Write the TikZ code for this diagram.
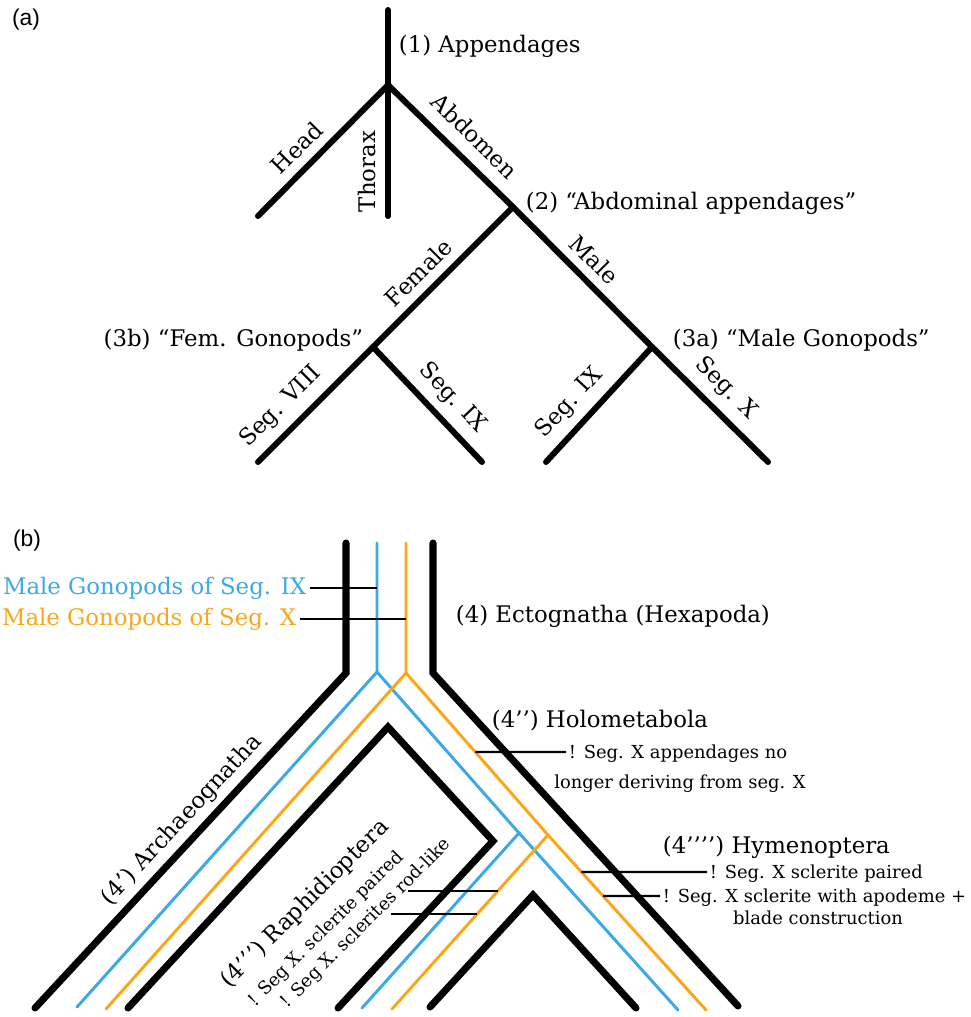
\documentclass[tikz,border=0pt]{standalone}
\usepackage{fontspec}
\setmainfont{DejaVu Serif}
\newfontfamily\panelfont{Liberation Sans}
\usetikzlibrary{positioning,calc}
\definecolor{segblue}{RGB}{59,170,226}
\definecolor{segorange}{RGB}{250,166,26}

\begin{document}
\begin{tikzpicture}[x=0.02cm, y=-0.02cm, line cap=round,
	branch/.style = {draw, line width=3.4pt},
	wall/.style = {draw, line width=4pt},
	blueline/.style = {draw=segblue, line width=1.7pt},
	orangeline/.style = {draw=segorange, line width=1.7pt},
	leader/.style = {draw, line width=1.3pt, line cap=butt},
	lab/.style = {font=\fontsize{13}{15}\selectfont, inner sep=2pt},
	note/.style = {font=\fontsize{10.2}{12}\selectfont, inner sep=1.5pt, text height=7.5pt, text depth=0pt},
	edgelab/.style = {lab, sloped, above=3pt},
	panel/.style = {font=\panelfont\fontsize{13}{15}\selectfont}]
	\useasboundingbox (0,0) rectangle (970,1017);

	% (a) segment tree
	\node[panel] (pa) at (26,20) {(a)};
	\coordinate (a0) at (388,10);
	\coordinate (aR) at (388,85);
	\coordinate (aT) at (388,216);
	\coordinate (aH) at (258,216);
	\coordinate (a2) at (513,207);
	\coordinate (a3b) at (373,347);
	\coordinate (a3a) at (652,347);
	\coordinate (s8) at (258,462);
	\coordinate (s9f) at (482,462);
	\coordinate (s9m) at (546,462);
	\coordinate (s10) at (768,462);
	\draw[branch] (a0) -- (aR);
	\draw[branch] (aT) -- node[edgelab, pos=0.34] (lthorax) {Thorax} (aR);
	\draw[branch] (aH) -- node[edgelab, pos=0.41] (lhead) {Head} (aR);
	\draw[branch] (aR) -- node[edgelab, above=5pt, pos=0.56] (labdomen) {Abdomen} (a2)
		-- node[edgelab, pos=0.48] (lmale) {Male} (a3a)
		-- node[edgelab, pos=0.5] (lsegx) {Seg. X} (s10);
	\draw[branch] (s8) -- node[edgelab, pos=0.34] (lseg8) {Seg. VIII} (a3b)
		-- node[edgelab, pos=0.43] (lfemale) {Female} (a2);
	\draw[branch] (a3b) -- node[edgelab, pos=0.58] (lseg9f) {Seg. IX} (s9f);
	\draw[branch] (s9m) -- node[edgelab, pos=0.38] (lseg9m) {Seg. IX} (a3a);
	\node[lab, anchor=base west] (n1) at (395,53) {(1) Appendages};
	\node[lab, anchor=base west] (n2) at (522,209) {(2) “Abdominal appendages”};
	\node[lab, anchor=base east] (n3b) at (367,346) {(3b) “Fem. Gonopods”};
	\node[lab, anchor=base west] (n3a) at (669,346) {(3a) “Male Gonopods”};

	% (b) gonopod lineages
	\node[panel] (pb) at (27,541) {(b)};
	\coordinate (lw0) at (346,543);
	\coordinate (lw1) at (346,673);
	\coordinate (lw2) at (35,1008);
	\coordinate (rw0) at (433,543);
	\coordinate (rw1) at (433,673);
	\coordinate (rw2) at (738,1006);
	\coordinate (iw0) at (128,1008);
	\coordinate (iw1) at (388,727);
	\coordinate (iw2) at (493,841);
	\coordinate (iw3) at (338,1008);
	\coordinate (cw0) at (430,1007);
	\coordinate (cw1) at (533,895);
	\coordinate (cw2) at (636,1008);
	\coordinate (b0) at (377,543);
	\coordinate (b1) at (377,672);
	\coordinate (bL) at (77,1007);
	\coordinate (b2) at (519,833);
	\coordinate (bM) at (362,1008);
	\coordinate (bR) at (678,1010);
	\coordinate (o0) at (406,543);
	\coordinate (o1) at (406,673);
	\coordinate (oL) at (106,1009);
	\coordinate (o2) at (548,835);
	\coordinate (oM) at (392,1009);
	\coordinate (oR) at (706,1010);
	\draw[wall] (lw2) -- node[lab, sloped, above=1pt, pos=0.52] (arch) {(4’) Archaeognatha} (lw1) -- (lw0);
	\draw[wall] (rw0) -- (rw1) -- (rw2);
	\draw[wall] (iw0) -- (iw1) -- (iw2) -- (iw3);
	\draw[wall] (cw0) -- (cw1) -- (cw2);
	\draw[blueline] (b0) -- (b1) -- (bL);
	\draw[blueline] (b1) -- (b2) -- (bM);
	\draw[blueline] (b2) -- (bR);
	\draw[orangeline] (o0) -- (o1) -- (oL);
	\draw[orangeline] (o1) -- (o2) -- (oM);
	\draw[orangeline] (o2) -- (oR);

	\node[lab, text=segblue, anchor=east] (gIX) at (310,588) {Male Gonopods of Seg. IX};
	\node[lab, text=segorange, anchor=east] (gX) at (300,619) {Male Gonopods of Seg. X};
	\draw[leader] (gIX.east) -- (gIX.east -| b0);
	\draw[leader] (gX.east) -- (gX.east -| o0);

	\node[lab, anchor=base west] (ecto) at (452,622) {(4) Ectognatha (Hexapoda)};
	\node[lab, anchor=base west] (holo) at (488,727) {(4’’) Holometabola};
	\node[note, anchor=west] (holoA) at (566,752) {! Seg. X appendages no};
	\node[note, anchor=base] (holoB) at (680,788) {longer deriving from seg. X};
	\draw[leader] (holoA.west) -- (intersection of o1--o2 and holoA.west--holoA.east);

	\node[lab, anchor=base west] (hym) at (659,853) {(4’’’’) Hymenoptera};
	\node[note, anchor=west] (hymA) at (707,872) {! Seg. X sclerite paired};
	\node[note, anchor=west] (hymB) at (660,896) {! Seg. X sclerite with apodeme +};
	\node[note, anchor=base] (hymC) at (818,924) {blade construction};
	\draw[leader] (hymA.west) -- (intersection of o2--oR and hymA.west--hymA.east);
	\draw[leader] (hymB.west) -- (intersection of o2--oR and hymB.west--hymB.east);

	\node[lab, rotate=45] (raph) at (305,904) {(4’’’) Raphidioptera};
	\node[note, rotate=45] (raphA) at (325,928) {! Seg X. sclerite paired};
	\node[note, rotate=45] (raphB) at (365,922) {! Seg X. sclerites rod-like};
	\coordinate (r1) at (408,891);
	\coordinate (r2) at (391,914);
	\coordinate (rx1) at ($(o2)!0.322!(oM)$);
	\coordinate (rx2) at ($(o2)!0.454!(oM)$);
	\draw[leader] (r1) -- (r1 -| rx1);
	\draw[leader] (r2) -- (r2 -| rx2);
\end{tikzpicture}
\end{document}
